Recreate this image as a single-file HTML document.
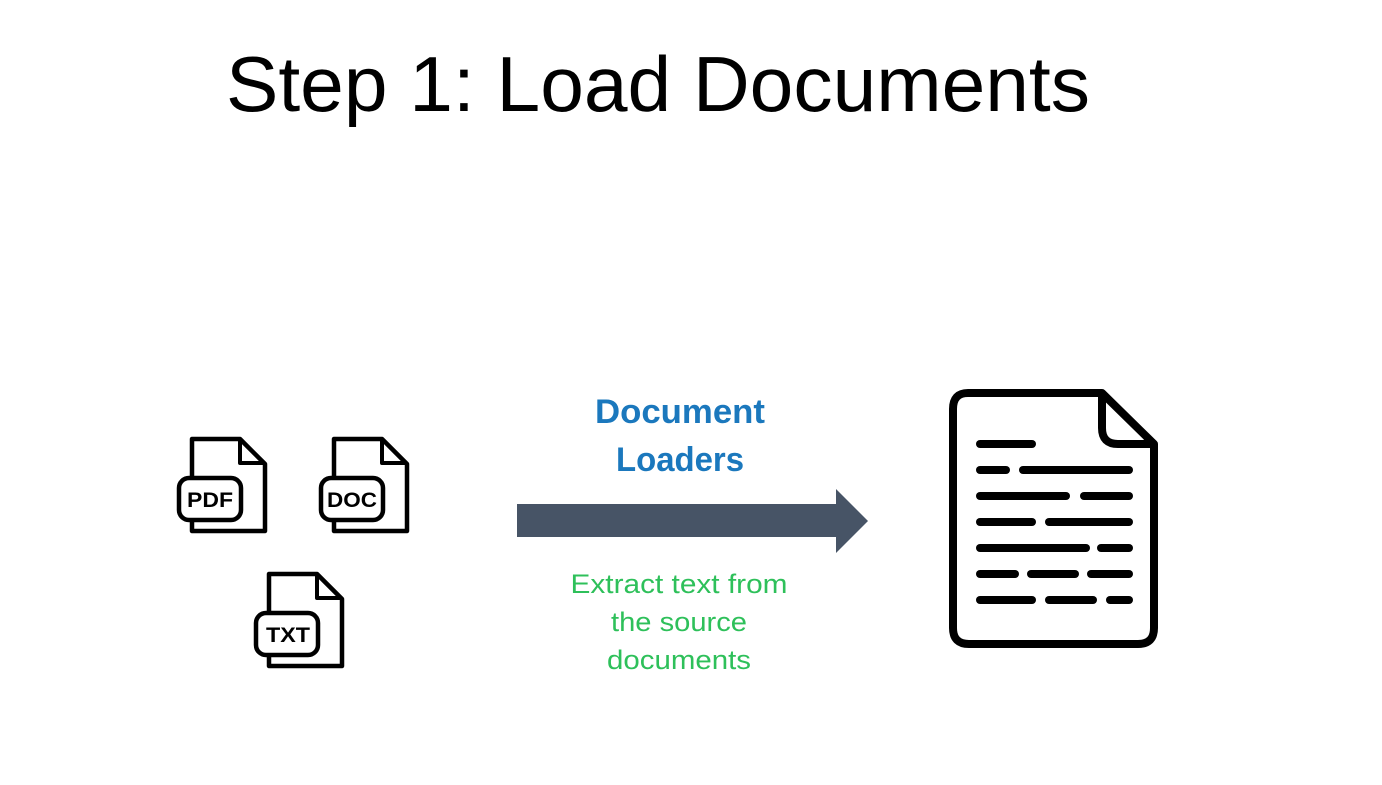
<!DOCTYPE html>
<html><head><meta charset="utf-8"><style>
html,body{margin:0;padding:0;background:#fff;width:1382px;height:785px;overflow:hidden}
</style></head><body>
<svg width="1382" height="785" viewBox="0 0 1382 785" xmlns="http://www.w3.org/2000/svg">
<rect width="1382" height="785" fill="#fff"/>
<text x="226" y="111" font-family="Liberation Sans, sans-serif" font-size="78" fill="#000" textLength="864" lengthAdjust="spacingAndGlyphs">Step 1: Load Documents</text>

<defs>
<g id="ic">
  <path d="M192,439 H240 L265,464 V531 H192 Z" fill="#fff" stroke="#000" stroke-width="4.5" stroke-linejoin="round"/>
  <path d="M240,439 V463 H265" fill="none" stroke="#000" stroke-width="4" stroke-linejoin="round"/>
  <rect x="179" y="478" width="62" height="42" rx="10" fill="#fff" stroke="#000" stroke-width="4.5"/>
</g>
</defs>
<use href="#ic"/>
<use href="#ic" transform="translate(142,0)"/>
<use href="#ic" transform="translate(77,135)"/>
<g font-family="Liberation Sans, sans-serif" font-weight="bold" font-size="21" text-anchor="middle" fill="#000">
<text x="210" y="507" textLength="46" lengthAdjust="spacingAndGlyphs">PDF</text>
<text x="352" y="507" textLength="50" lengthAdjust="spacingAndGlyphs">DOC</text>
<text x="288" y="642" textLength="44" lengthAdjust="spacingAndGlyphs">TXT</text>
</g>

<text x="680" y="423" font-family="Liberation Sans, sans-serif" font-weight="bold" font-size="34" fill="#1b78bd" text-anchor="middle" textLength="170" lengthAdjust="spacingAndGlyphs">Document</text>
<text x="680" y="471" font-family="Liberation Sans, sans-serif" font-weight="bold" font-size="34" fill="#1b78bd" text-anchor="middle" textLength="128" lengthAdjust="spacingAndGlyphs">Loaders</text>

<path d="M517,504 H836 V489 L868,521 L836,553 V537 H517 Z" fill="#475466"/>

<g font-family="Liberation Sans, sans-serif" font-size="27" fill="#2ec05a" text-anchor="middle">
<text x="679" y="593" textLength="217" lengthAdjust="spacingAndGlyphs">Extract text from</text>
<text x="679" y="631" textLength="136" lengthAdjust="spacingAndGlyphs">the source</text>
<text x="679" y="669" textLength="144" lengthAdjust="spacingAndGlyphs">documents</text>
</g>

<path d="M968,393 H1102 L1154,444 V628 Q1154,644 1138,644 H969 Q953,644 953,628 V409 Q953,393 968,393 Z" fill="#fff" stroke="#000" stroke-width="8" stroke-linejoin="round"/>
<path d="M1102,393 V428 Q1102,444 1118,444 H1154" fill="none" stroke="#000" stroke-width="8" stroke-linejoin="round"/>
<g stroke="#000" stroke-width="8" stroke-linecap="round">
<line x1="980" y1="444" x2="1032" y2="444"/>
<line x1="980" y1="470" x2="1006" y2="470"/><line x1="1023" y1="470" x2="1129" y2="470"/>
<line x1="980" y1="496" x2="1066" y2="496"/><line x1="1084" y1="496" x2="1129" y2="496"/>
<line x1="980" y1="522" x2="1032" y2="522"/><line x1="1049" y1="522" x2="1129" y2="522"/>
<line x1="980" y1="548" x2="1086" y2="548"/><line x1="1101" y1="548" x2="1129" y2="548"/>
<line x1="980" y1="574" x2="1015" y2="574"/><line x1="1031" y1="574" x2="1075" y2="574"/><line x1="1091" y1="574" x2="1129" y2="574"/>
<line x1="980" y1="600" x2="1032" y2="600"/><line x1="1049" y1="600" x2="1093" y2="600"/><line x1="1110" y1="600" x2="1129" y2="600"/>
</g>
</svg>
</body></html>
